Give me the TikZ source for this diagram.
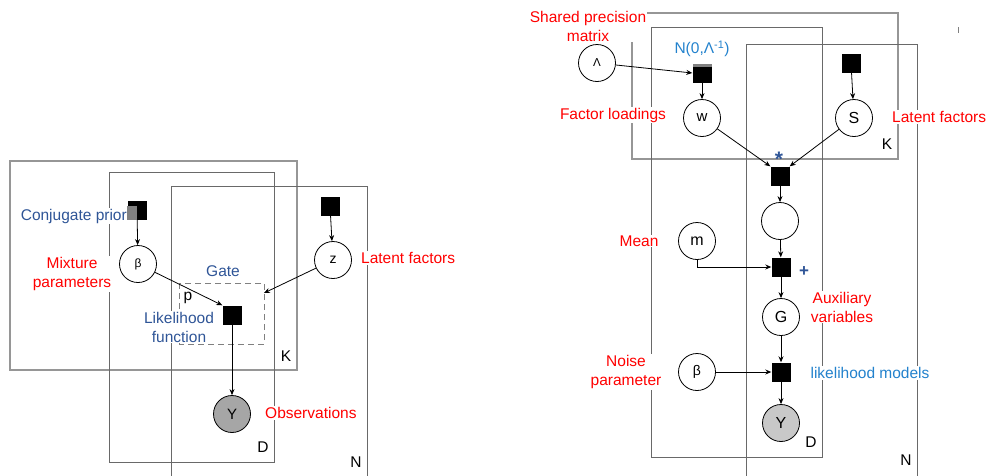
\documentclass[tikz,border=0pt]{standalone}
\usepackage{fontspec}
\setmainfont{Liberation Sans}
\usetikzlibrary{arrows.meta,calc}
\definecolor{lab}{RGB}{255,0,0}
\definecolor{dblue}{RGB}{47,85,151}
\definecolor{lblue}{RGB}{35,130,205}
\definecolor{plate}{RGB}{128,128,128}
\definecolor{plateK}{RGB}{150,150,150}
\definecolor{plateD}{RGB}{105,105,105}
\definecolor{obsA}{RGB}{166,166,166}
\definecolor{obsB}{RGB}{200,200,200}
\begin{document}
\begin{tikzpicture}[x=1pt,y=-1pt,
  var/.style={circle,draw,line width=0.8pt,minimum size=37pt,inner sep=0pt,font=\fontsize{15}{17}\selectfont},
  fac/.style={rectangle,fill=black,minimum size=19pt,inner sep=0pt},
  pltK/.style={draw=plateK,line width=1.2pt},
  pltD/.style={draw=plateD,line width=0.9pt},
  lbl/.style={text=lab,fill=white,inner sep=1pt,align=center,font=\fontsize{15.5}{19}\selectfont},
  bl/.style={text=dblue,fill=white,inner sep=1pt,align=center,font=\fontsize{15.5}{19}\selectfont},
  lb/.style={text=lblue,fill=white,inner sep=1pt,align=center,font=\fontsize{15.5}{19}\selectfont},
  plab/.style={inner sep=0pt,font=\fontsize{15.5}{19}\selectfont},
  arr/.style={-{Stealth[length=6pt,width=5pt]},line width=0.8pt},
]
\useasboundingbox (0,0) rectangle (990,475);
% ---------- left plates
\draw[pltK] (10,161) rectangle (297,370);
\draw[pltD] (109,172) rectangle (274,462);
\draw[pltD] (171,476) -- (171,186) -- (367,186) -- (367,476);
\draw[plate,dashed,dash pattern=on 6pt off 4pt,line width=1pt] (179,283) rectangle (264,344);
\coordinate (gatept) at (264,293);
% ---------- right plates
\draw[pltK] (632,13) rectangle (898,159);
\draw[pltD] (651,27) rectangle (822,457);
\draw[pltD] (746,476) -- (746,44) -- (917,44) -- (917,476);
\draw[plate,line width=1pt] (958,27) -- (958,33);
% ---------- left labels
\node[bl,anchor=east] (tcp) at (128,216) {Conjugate prior};
\node[lbl] (tmix) at (72,274) {Mixture\\parameters};
\node[text=dblue,inner sep=1pt,font=\fontsize{15.5}{19}\selectfont] (tgate) at (223,271) {Gate};
\node[plab] (tp) at (188,298) {p};
\node[bl] (tlik) at (179,327) {Likelihood\\function};
\node[lbl,anchor=west] (tlat) at (360,258) {Latent factors};
\node[lbl,anchor=west] (tobs) at (264,413) {Observations};
\node[plab] (tK1) at (286,356) {K};
\node[plab] (tD1) at (263,447) {D};
\node[plab] (tN1) at (356,462) {N};
% ---------- right labels
\node[lbl] (tshared) at (588,26) {Shared precision\\matrix};
\node[text=lblue,inner sep=1pt,font=\fontsize{15.5}{19}\selectfont] (tnorm) at (702,49) {N(0,Λ\textsuperscript{-1})};
\node[lbl] (tfl) at (613,115) {Factor loadings};
\node[lbl,anchor=west] (tlat2) at (891,117) {Latent factors};
\node[plab] (tK2) at (887,144) {K};
\node[text=dblue,inner sep=0pt,font=\bfseries\fontsize{21}{21}\selectfont] (tstar) at (779,159) {*};
\node[lbl] (tmean) at (639,241) {Mean};
\node[text=dblue,inner sep=0pt,font=\bfseries\fontsize{17}{17}\selectfont] (tplus) at (804,272) {+};
\node[lbl] (taux) at (842,307) {Auxiliary\\variables};
\node[lbl] (tnoise) at (626,372) {Noise\\parameter};
\node[lb] (tlm) at (870,373) {likelihood models};
\node[plab] (tD2) at (811,442) {D};
\node[plab] (tN2) at (906,460) {N};
% ---------- left nodes
\node[fac] (cp) at (137,210) {};
\fill[plate] (127,206) rectangle (137,220);
\node[var,fill=white,font=\fontsize{12}{14}\selectfont] (beta) at (138,264) {β};
\node[fac] (zf) at (330,206) {};
\node[var,fill=white,font=\fontsize{14}{16}\selectfont] (z) at (333,260) {z};
\node[fac] (lf) at (232,315) {};
\node[var,fill=obsA] (Y) at (232,414) {Y};
% ---------- right nodes
\node[var,fill=white,font=\fontsize{11.5}{13}\selectfont] (lam) at (597,63) {Λ};
\node[fac] (nf) at (702,73) {};
\fill[plate] (692.5,63.5) rectangle (711.5,67);
\node[var,fill=white,font=\fontsize{15}{17}\selectfont] (w) at (702,118) {w};
\node[fac] (sf) at (851,63) {};
\node[var,fill=white,font=\fontsize{16}{18}\selectfont] (s) at (854,118) {S};
\node[fac] (pf) at (780,176) {};
\node[var,fill=white] (h) at (780,221) {};
\node[var,fill=white,font=\fontsize{16}{18}\selectfont] (m) at (697,241) {m};
\node[fac] (af) at (781,267) {};
\node[var,fill=white,font=\fontsize{16}{18}\selectfont] (g) at (781,317) {G};
\node[var,fill=white,font=\fontsize{14}{16}\selectfont] (bet) at (697,372) {β};
\node[fac] (lk) at (781,372) {};
\node[var,fill=obsB,font=\fontsize{16}{18}\selectfont] (y2) at (781,423) {Y};
% ---------- left arrows
\draw[arr] (cp) -- (beta);
\draw[arr] (zf) -- (z);
\draw[arr] (beta) -- (lf.north west);
\draw[arr] (z) -- (gatept);
\draw[arr] (lf) -- (Y);
% ---------- right arrows
\draw[arr] (lam) -- (nf.west);
\draw[arr] (nf) -- (w);
\draw[arr] (sf) -- (s);
\draw[arr] (w) -- (pf.north west);
\draw[arr] (s) -- (pf.north east);
\draw[arr] (pf) -- (h);
\draw[arr] (h) -- (af);
\draw[arr] (m) |- (af);
\draw[arr] (af) -- (g);
\draw[arr] (g) -- (lk);
\draw[arr] (bet) -- (lk);
\draw[arr] (lk) -- (y2);
\end{tikzpicture}
\end{document}
